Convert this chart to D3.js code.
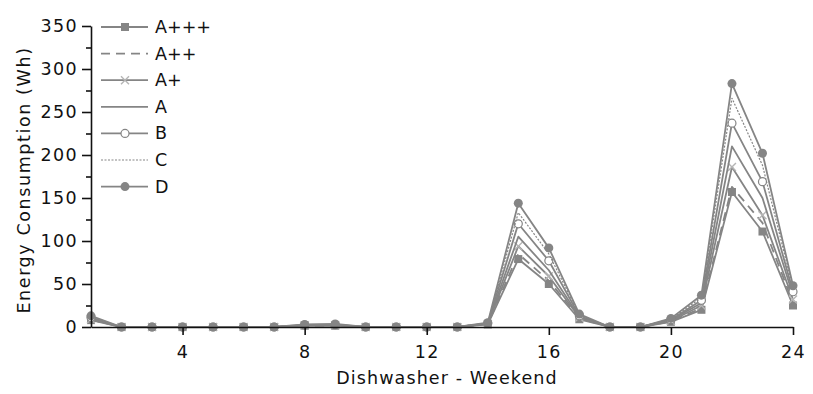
<!DOCTYPE html>
<html>
<head>
<meta charset="utf-8">
<script src="https://cdn.jsdelivr.net/npm/d3@7"></script>
<style>
  html, body { margin: 0; padding: 0; background: #fff; }
  svg { display: block; font-family: "DejaVu Sans", sans-serif; }
</style>
</head>
<body>
<svg id="chart" width="813" height="394"></svg>
<script>
// Hours of the day (1..24)
const hours = [1,2,3,4,5,6,7,8,9,10,11,12,13,14,15,16,17,18,19,20,21,22,23,24];

// Energy consumption (Wh) per efficiency class
const seriesNames = ["A+++", "A++", "A+", "A", "B", "C", "D"];
const aPlus3 = [8,0,0,0,0,0,0,1.5,1.5,0,0,0,0,3,79,50,9,0,0,6,20,157,111,25];
const aPlus2 = [8.5,0,0,0,0,0,0,1.6,1.7,0,0,0,0,3.3,85,54,10,0,0,6.5,22,163,121,28];
const aPlus1 = [9,0,0,0,0,0,0,1.8,2,0,0,0,0,3.6,94,59,11,0,0,7,25,186,130,32];
const aClass = [10,0,0,0,0,0,0,2,2.3,0,0,0,0,4,105,66,12,0,0,8,28,210,150,37];
const bClass = [11,0,0,0,0,0,0,2.3,2.7,0,0,0,0,4.3,120,77,13,0,0,8.5,31,237,169,41];
const cClass = [12,0,0,0,0,0,0,2.6,3,0,0,0,0,4.7,133,85,14,0,0,9.2,34,266,188,45];
const dClass = [13,0,0,0,0,0,0,3,3.5,0,0,0,0,5,144,92,15,0,0,10,37,283,202,48];
const seriesValues = [aPlus3, aPlus2, aPlus1, aClass, bClass, cClass, dClass];

const xTicks = [4, 8, 12, 16, 20, 24];
const yTicks = [0, 50, 100, 150, 200, 250, 300, 350];
const yMinorTicks = [25, 75, 125, 175, 225, 275, 325];
const xLabel = "Dishwasher - Weekend";
const yLabel = "Energy Consumption (Wh)";

// Visual style per series
const styles = [
  { dash: null,    width: 1.8, marker: "square", color: "#858585" },
  { dash: "9,6",   width: 1.8, marker: null,     color: "#858585" },
  { dash: null,    width: 1.8, marker: "cross",  color: "#858585", markerColor: "#b5b5b5" },
  { dash: null,    width: 1.8, marker: null,     color: "#858585" },
  { dash: null,    width: 1.8, marker: "open",   color: "#858585" },
  { dash: "2,1.5", width: 1.2, marker: null,     color: "#858585" },
  { dash: null,    width: 1.8, marker: "dot",    color: "#858585" }
];

const svg = d3.select("#chart");
const left = 91;

const x = d3.scaleLinear().domain([1, 24]).range([left, 793]);
const y = d3.scaleLinear().domain([0, 350]).range([327, 26]);

function drawMarker(g, kind, cx, cy, st) {
  if (kind === "square") {
    g.append("rect").attr("x", cx - 4).attr("y", cy - 4).attr("width", 8).attr("height", 8)
      .attr("fill", st.color);
  } else if (kind === "dot") {
    g.append("circle").attr("cx", cx).attr("cy", cy).attr("r", 4.5).attr("fill", st.color);
  } else if (kind === "open") {
    g.append("circle").attr("cx", cx).attr("cy", cy).attr("r", 4).attr("fill", "#fff")
      .attr("stroke", st.color).attr("stroke-width", 1.2);
  } else if (kind === "cross") {
    const c = st.markerColor || st.color;
    g.append("path").attr("d", `M${cx-4},${cy-4}L${cx+4},${cy+4}M${cx-4},${cy+4}L${cx+4},${cy-4}`)
      .attr("stroke", c).attr("stroke-width", 1.4).attr("fill", "none");
  }
}

const plot = svg.append("g");
const line = d3.line().x((d, i) => x(hours[i])).y(d => y(d));

seriesValues.forEach((vals, si) => {
  const st = styles[si];
  const g = plot.append("g");
  g.append("path").datum(vals).attr("d", line)
    .attr("fill", "none").attr("stroke", st.color).attr("stroke-width", st.width)
    .attr("stroke-dasharray", st.dash).attr("stroke-linejoin", "round");
  if (st.marker) {
    vals.forEach((v, i) => drawMarker(g, st.marker, x(hours[i]), y(v), st));
  }
});

// Axes
const xAxis = d3.axisBottom(x).tickValues(xTicks).tickSize(8).tickSizeOuter(0).tickPadding(11);
const gx = svg.append("g").attr("transform", `translate(0,${y(0)})`).call(xAxis);
const yAxis = d3.axisLeft(y).tickValues(yTicks).tickSize(9).tickSizeOuter(0).tickPadding(4);
const gy = svg.append("g").attr("transform", `translate(${left},0)`).call(yAxis);
svg.append("g").attr("transform", `translate(${left},0)`)
  .call(d3.axisLeft(y).tickValues(yMinorTicks).tickSize(5).tickFormat("").tickSizeOuter(0))
  .select(".domain").remove();

[gx, gy].forEach(g => {
  g.selectAll("text").attr("font-size", 17.5).attr("fill", "#111")
    .attr("font-family", "DejaVu Sans").attr("letter-spacing", "1.4px");
  g.select(".domain").attr("stroke", "#111").attr("stroke-width", 1.6);
});
svg.selectAll(".tick line").attr("stroke", "#111").attr("stroke-width", 1.6);

// Axis titles
svg.append("text").attr("x", 447).attr("y", 384).attr("text-anchor", "middle")
  .attr("font-size", 17.5).attr("letter-spacing", "1.1px").attr("fill", "#111").text(xLabel);
svg.append("text").attr("transform", `translate(30,180) rotate(-90)`)
  .attr("text-anchor", "middle").attr("font-size", 17.5).attr("letter-spacing", "1.6px")
  .attr("fill", "#111").text(yLabel);

// Legend
const legend = svg.append("g");
seriesNames.forEach((name, i) => {
  const st = styles[i];
  const ly = 27 + i * 26.6;
  const g = legend.append("g");
  g.append("line").attr("x1", 101).attr("x2", 148).attr("y1", ly).attr("y2", ly)
    .attr("stroke", st.color).attr("stroke-width", st.width).attr("stroke-dasharray", st.dash);
  if (st.marker) drawMarker(g, st.marker, 125, ly, st);
  g.append("text").attr("x", 155).attr("y", ly + 6).attr("font-size", 17.5).attr("fill", "#111").text(name);
});
</script>
</body>
</html>
